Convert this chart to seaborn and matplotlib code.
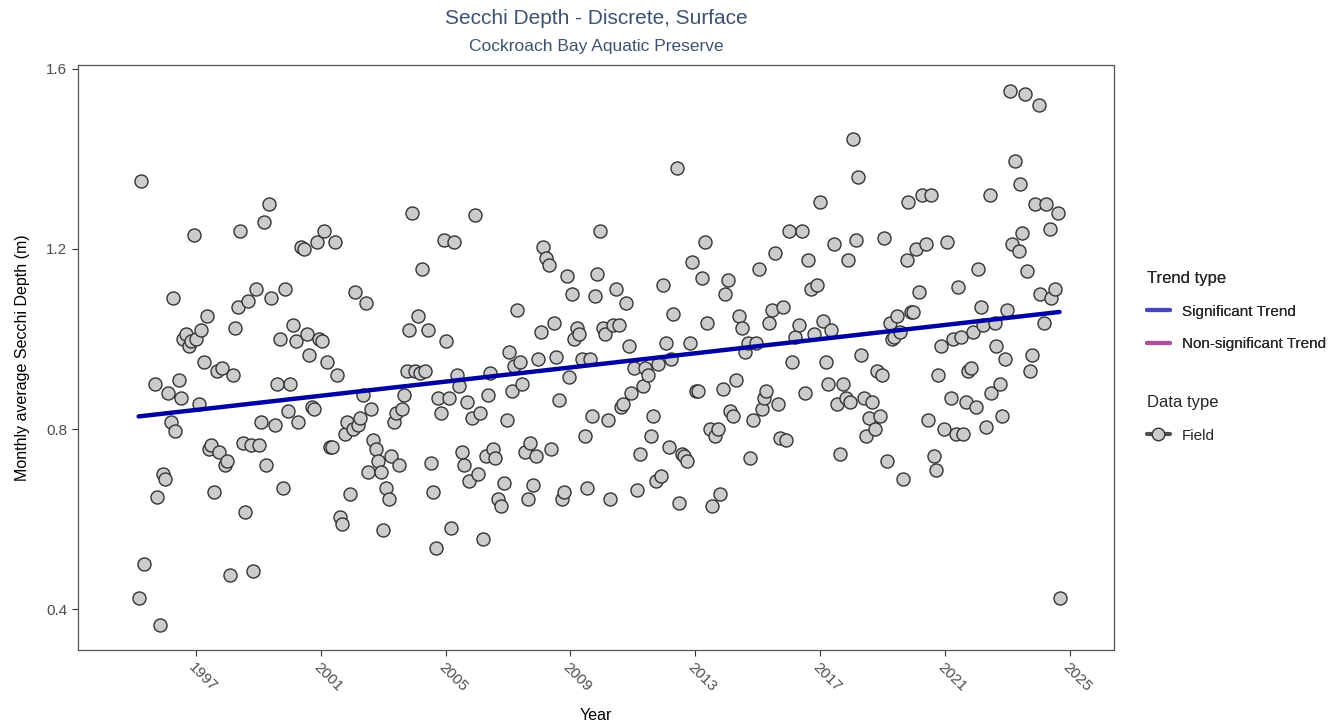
import matplotlib
matplotlib.use("Agg")
import matplotlib.pyplot as plt
from matplotlib.lines import Line2D
import pandas as pd
import seaborn as sns

# monthly averages (decimal year, metres)
years = [
    1995.17, 1995.24, 1995.33, 1995.69, 1995.75, 1995.85, 1995.94, 1996.01, 1996.10, 1996.20,
    1996.26, 1996.33, 1996.46, 1996.52, 1996.58, 1996.68, 1996.78, 1996.84, 1996.94, 1997.00,
    1997.10, 1997.16, 1997.26, 1997.35, 1997.42, 1997.48, 1997.58, 1997.67, 1997.74, 1997.83,
    1997.93, 1997.99, 1998.09, 1998.19, 1998.25, 1998.35, 1998.41, 1998.51, 1998.57, 1998.67,
    1998.76, 1998.83, 1998.92, 1999.02, 1999.08, 1999.18, 1999.24, 1999.34, 1999.40, 1999.53,
    1999.60, 1999.69, 1999.79, 1999.85, 1999.95, 2000.01, 2000.11, 2000.21, 2000.27, 2000.37,
    2000.46, 2000.56, 2000.62, 2000.72, 2000.78, 2000.88, 2000.94, 2001.04, 2001.10, 2001.20,
    2001.29, 2001.36, 2001.46, 2001.52, 2001.62, 2001.68, 2001.78, 2001.84, 2001.94, 2002.03,
    2002.10, 2002.19, 2002.26, 2002.35, 2002.45, 2002.51, 2002.61, 2002.67, 2002.77, 2002.83,
    2002.93, 2002.99, 2003.09, 2003.19, 2003.25, 2003.35, 2003.41, 2003.51, 2003.60, 2003.67,
    2003.76, 2003.83, 2003.92, 2004.02, 2004.12, 2004.18, 2004.24, 2004.34, 2004.44, 2004.53,
    2004.60, 2004.69, 2004.76, 2004.85, 2004.95, 2005.01, 2005.11, 2005.17, 2005.27, 2005.37,
    2005.43, 2005.53, 2005.59, 2005.69, 2005.75, 2005.85, 2005.94, 2006.04, 2006.10, 2006.20,
    2006.29, 2006.36, 2006.42, 2006.52, 2006.58, 2006.68, 2006.78, 2006.87, 2006.97, 2007.03,
    2007.13, 2007.19, 2007.29, 2007.38, 2007.45, 2007.54, 2007.64, 2007.70, 2007.80, 2007.90,
    2007.96, 2008.06, 2008.12, 2008.22, 2008.31, 2008.38, 2008.47, 2008.54, 2008.63, 2008.73,
    2008.79, 2008.89, 2008.95, 2009.05, 2009.11, 2009.21, 2009.28, 2009.37, 2009.47, 2009.53,
    2009.63, 2009.69, 2009.79, 2009.85, 2009.95, 2010.04, 2010.11, 2010.21, 2010.27, 2010.37,
    2010.46, 2010.56, 2010.62, 2010.69, 2010.78, 2010.88, 2010.94, 2011.04, 2011.13, 2011.23,
    2011.33, 2011.39, 2011.49, 2011.58, 2011.65, 2011.74, 2011.81, 2011.90, 2011.97, 2012.06,
    2012.16, 2012.22, 2012.29, 2012.42, 2012.48, 2012.58, 2012.64, 2012.74, 2012.83, 2012.90,
    2013.03, 2013.09, 2013.22, 2013.31, 2013.38, 2013.47, 2013.54, 2013.63, 2013.73, 2013.79,
    2013.89, 2013.96, 2014.05, 2014.12, 2014.21, 2014.31, 2014.40, 2014.50, 2014.60, 2014.69,
    2014.76, 2014.85, 2014.95, 2015.04, 2015.14, 2015.20, 2015.27, 2015.37, 2015.46, 2015.56,
    2015.65, 2015.72, 2015.81, 2015.91, 2016.01, 2016.10, 2016.20, 2016.33, 2016.42, 2016.52,
    2016.62, 2016.71, 2016.81, 2016.90, 2017.00, 2017.10, 2017.19, 2017.26, 2017.35, 2017.45,
    2017.54, 2017.64, 2017.74, 2017.83, 2017.90, 2017.96, 2018.06, 2018.15, 2018.22, 2018.31,
    2018.41, 2018.47, 2018.57, 2018.66, 2018.76, 2018.83, 2018.92, 2018.99, 2019.05, 2019.12,
    2019.24, 2019.31, 2019.37, 2019.44, 2019.56, 2019.66, 2019.76, 2019.82, 2019.92, 2019.98,
    2020.08, 2020.17, 2020.27, 2020.37, 2020.46, 2020.53, 2020.65, 2020.72, 2020.78, 2020.88,
    2020.97, 2021.07, 2021.17, 2021.26, 2021.33, 2021.42, 2021.52, 2021.58, 2021.68, 2021.74,
    2021.81, 2021.90, 2022.00, 2022.06, 2022.16, 2022.22, 2022.32, 2022.42, 2022.48, 2022.58,
    2022.64, 2022.74, 2022.83, 2022.90, 2022.99, 2023.06, 2023.15, 2023.25, 2023.35, 2023.41,
    2023.47, 2023.57, 2023.63, 2023.73, 2023.79, 2023.89, 2023.99, 2024.05, 2024.15, 2024.24,
    2024.34, 2024.40, 2024.50, 2024.60, 2024.66,
]
depth = [
    0.425, 1.35, 0.50, 0.90, 0.65, 0.365, 0.70, 0.69, 0.88, 0.815,
    1.09, 0.795, 0.91, 0.87, 1.00, 1.01, 0.985, 0.995, 1.23, 1.00,
    0.855, 1.02, 0.95, 1.05, 0.755, 0.765, 0.66, 0.93, 0.75, 0.935,
    0.72, 0.73, 0.475, 0.92, 1.025, 1.07, 1.24, 0.77, 0.615, 1.085,
    0.765, 0.485, 1.11, 0.765, 0.815, 1.26, 0.72, 1.30, 1.09, 0.81,
    0.90, 1.00, 0.67, 1.11, 0.84, 0.90, 1.03, 0.995, 0.815, 1.205,
    1.20, 1.01, 0.965, 0.85, 0.845, 1.215, 1.00, 0.995, 1.24, 0.95,
    0.76, 0.76, 1.215, 0.92, 0.605, 0.59, 0.79, 0.815, 0.655, 0.80,
    1.105, 0.81, 0.825, 0.875, 1.08, 0.705, 0.845, 0.775, 0.755, 0.73,
    0.705, 0.575, 0.67, 0.645, 0.74, 0.815, 0.835, 0.72, 0.845, 0.875,
    0.93, 1.02, 1.28, 0.93, 1.05, 0.925, 1.155, 0.93, 1.02, 0.725,
    0.66, 0.535, 0.87, 0.835, 1.22, 0.995, 0.87, 0.58, 1.215, 0.92,
    0.895, 0.75, 0.72, 0.86, 0.685, 0.825, 1.275, 0.70, 0.835, 0.555,
    0.74, 0.875, 0.925, 0.755, 0.735, 0.645, 0.63, 0.68, 0.82, 0.97,
    0.885, 0.94, 1.065, 0.95, 0.90, 0.75, 0.645, 0.77, 0.675, 0.74,
    0.955, 1.015, 1.205, 1.18, 1.165, 0.755, 1.035, 0.96, 0.865, 0.645,
    0.66, 1.14, 0.915, 1.10, 1.00, 1.025, 1.01, 0.955, 0.785, 0.67,
    0.955, 0.83, 1.095, 1.145, 1.24, 1.025, 1.01, 0.82, 0.645, 1.03,
    1.11, 1.03, 0.85, 0.855, 1.08, 0.985, 0.88, 0.935, 0.665, 0.745,
    0.895, 0.935, 0.92, 0.785, 0.83, 0.685, 0.945, 0.695, 1.12, 0.99,
    0.76, 0.955, 1.055, 1.38, 0.635, 0.745, 0.74, 0.73, 0.99, 1.17,
    0.885, 0.885, 1.135, 1.215, 1.035, 0.80, 0.63, 0.785, 0.80, 0.655,
    0.89, 1.10, 1.13, 0.84, 0.83, 0.91, 1.05, 1.025, 0.97, 0.99,
    0.735, 0.82, 0.99, 1.155, 0.845, 0.87, 0.885, 1.035, 1.065, 1.19,
    0.855, 0.78, 1.07, 0.775, 1.24, 0.95, 1.005, 1.03, 1.24, 0.88,
    1.175, 1.11, 1.01, 1.12, 1.305, 1.04, 0.95, 0.90, 1.02, 1.21,
    0.855, 0.745, 0.90, 0.87, 1.175, 0.86, 1.445, 1.22, 1.36, 0.965,
    0.87, 0.785, 0.825, 0.86, 0.80, 0.93, 0.83, 0.92, 1.225, 0.73,
    1.035, 1.00, 1.005, 1.05, 1.015, 0.69, 1.175, 1.305, 1.06, 1.06,
    1.20, 1.105, 1.32, 1.21, 0.82, 1.32, 0.74, 0.71, 0.92, 0.985,
    0.80, 1.215, 0.87, 1.00, 0.79, 1.115, 1.005, 0.79, 0.86, 0.93,
    0.935, 1.015, 0.85, 1.155, 1.07, 1.03, 0.805, 1.32, 0.88, 1.035,
    0.985, 0.90, 0.83, 0.955, 1.065, 1.55, 1.21, 1.395, 1.195, 1.345,
    1.235, 1.545, 1.15, 0.93, 0.965, 1.30, 1.52, 1.10, 1.035, 1.30,
    1.245, 1.09, 1.11, 1.28, 0.425,
]

trend_years = [1995.17, 2024.66]
trend_depth = [0.828, 1.060]

x_ticks = [1997, 2001, 2005, 2009, 2013, 2017, 2021, 2025]
y_ticks = [0.4, 0.8, 1.2, 1.6]

assert len(years) == len(depth)
df = pd.DataFrame({"year": years, "depth": depth})
trend = pd.DataFrame({"year": trend_years, "depth": trend_depth})

sns.set_theme(style="white")
plt.rcParams["font.family"] = ["Liberation Sans", "DejaVu Sans"]

fig = plt.figure(figsize=(13.4, 7.28), dpi=100)
ax = fig.add_axes([0.058, 0.107, 0.773, 0.804])

sns.scatterplot(data=df, x="year", y="depth", s=88, color="#cccccc",
                edgecolor="#333333", linewidth=1.0, ax=ax, zorder=2)
sns.lineplot(data=trend, x="year", y="depth", color="#0000a0", linewidth=3.2,
             ax=ax, zorder=3)

ax.set_xlim(1993.22, 2026.39)
ax.set_ylim(0.309, 1.609)
ax.set_xticks(x_ticks)
ax.set_yticks(y_ticks)
ax.set_xticklabels([str(t) for t in x_ticks], rotation=-45, ha="left",
                   va="top", rotation_mode="anchor")
ax.set_yticklabels([f"{t:.1f}" for t in y_ticks])
ax.tick_params(axis="both", length=4, width=0.8, color="#333333",
               labelcolor="#4d4d4d", labelsize=11, bottom=True, left=True)
for sp in ax.spines.values():
    sp.set_color("#555555")
    sp.set_linewidth(0.9)

ax.set_xlabel("Year", fontsize=11.5, color="black", labelpad=10)
ax.set_ylabel("Monthly average Secchi Depth (m)", fontsize=11.5, color="black",
              labelpad=12)

fig.text(0.445, 0.974, "Secchi Depth - Discrete, Surface", ha="center",
         va="center", fontsize=15, color="#3d5272")
fig.text(0.445, 0.936, "Cockroach Bay Aquatic Preserve", ha="center",
         va="center", fontsize=12.5, color="#3d5272")

# legends on the right
trend_handles = [
    Line2D([], [], color="#4747c2", lw=3),
    Line2D([], [], color="#b04f9d", lw=3),
]
leg1 = fig.legend(trend_handles, ["Significant Trend", "Non-significant Trend"],
                  title="Trend type", loc="upper left",
                  bbox_to_anchor=(0.8455, 0.646), frameon=False, fontsize=11,
                  title_fontsize=12, handlelength=1.5, labelspacing=1.2,
                  alignment="left")
field_handle = [Line2D([], [], color="#4d4d4d", lw=3, marker="o",
                       markersize=9, markerfacecolor="#cccccc",
                       markeredgecolor="#333333")]
leg2 = fig.legend(field_handle, ["Field"], title="Data type", loc="upper left",
                  bbox_to_anchor=(0.8455, 0.476), frameon=False, fontsize=11,
                  title_fontsize=12, handlelength=1.5, labelspacing=1.2,
                  alignment="left")
fig.add_artist(leg1)

fig.savefig("out.png", dpi=100)
